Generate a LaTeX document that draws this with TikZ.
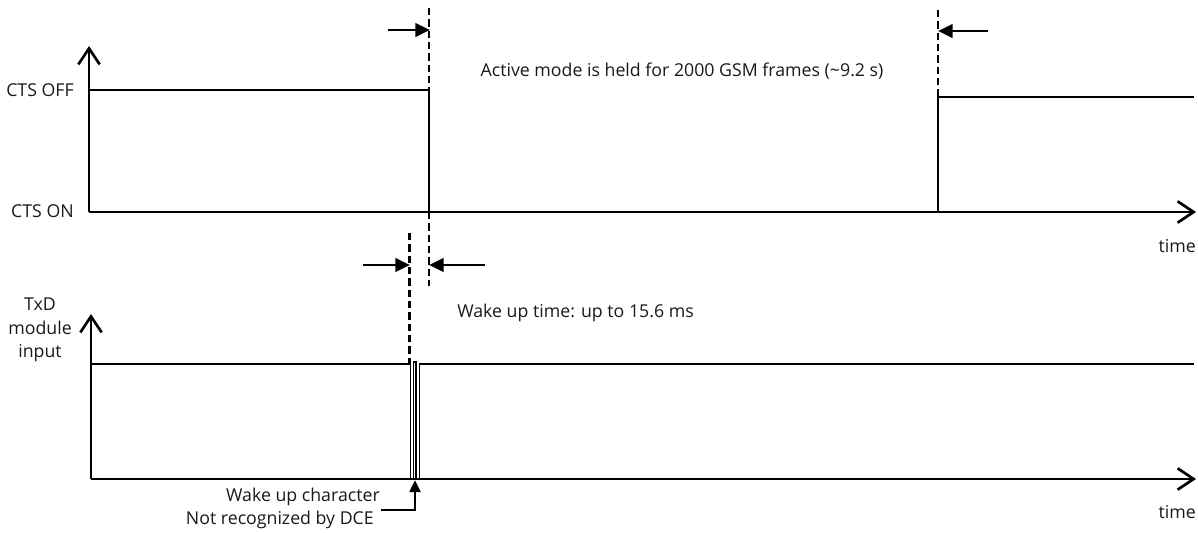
\documentclass[tikz,border=0pt]{standalone}
\usepackage{fontspec}
\setmainfont{Open Sans}
\usetikzlibrary{arrows.meta}
\begin{document}
\begin{tikzpicture}[x=0.75pt,y=-0.75pt,
  font=\fontsize{13.3pt}{17.5pt}\selectfont,
  axis/.style={line width=2pt,-{Straight Barb[length=12pt,width=16pt,line width=2pt]}},
  sig/.style={line width=1.4pt},
  pulse/.style={line width=0.75pt},
  guide/.style={line width=1.6pt,dash pattern=on 5.5pt off 3pt},
  dim/.style={line width=2.2pt,-{Triangle[length=11pt,width=10pt]}},
  lbl/.style={inner sep=0pt,text=black!90}]
\useasboundingbox (0,0) rectangle (1198,532);
% ---------- top panel ----------
\coordinate (o1) at (89,212);
\coordinate (y1) at (89,46);
\coordinate (t1) at (1196,212);
\coordinate (a1) at (89,90);
\coordinate (f1) at (429,90);
\coordinate (f1b) at (429,212);
\coordinate (r1b) at (938,212);
\coordinate (r1) at (938,97);
\coordinate (e1) at (1194,97);
\draw[guide] (429,8) coordinate (g1t) -- (429,286) coordinate (g1b);
\draw[guide] (938,10) coordinate (g2t) -- (r1);
\draw[sig] (a1) -- (f1) -- (f1b);
\draw[sig] (r1b) -- (r1) -- (e1);
\draw[axis] (o1) -- (y1);
\draw[axis] (o1) -- (t1);
\coordinate (d1s) at (388,30);
\coordinate (d1e) at (430,30);
\coordinate (d2s) at (988,31);
\coordinate (d2e) at (938,31);
\draw[dim] (d1s) -- (d1e);
\draw[dim] (d2s) -- (d2e);
\node[lbl,anchor=east] (ctsoff) at (74,90) {CTS OFF};
\node[lbl,anchor=east] (ctson) at (74,211) {CTS ON};
\node[lbl,anchor=east] (time1) at (1196,246) {time};
\node[lbl] (active) at (682,71) {Active mode is held for 2000 GSM frames (\textasciitilde 9.2 s)};
% ---------- bottom panel ----------
\coordinate (o2) at (91,479);
\coordinate (y2) at (91,314);
\coordinate (t2) at (1196,479);
\draw[guide] (409.5,233) coordinate (g3t) -- (409.5,364) coordinate (g3b);
\draw[sig] (91,364) -- (410,364);
\draw[pulse] (410,364) -- (410,479);
\draw[pulse,line width=1.1pt] (413.5,479) -- (413.5,362) -- (416,362) -- (416,479);
\draw[pulse] (419,479) -- (419,364);
\draw[sig] (419,364) -- (1194,364);
\draw[axis] (o2) -- (y2);
\draw[axis] (o2) -- (t2);
\coordinate (d3s) at (363,265);
\coordinate (d3e) at (410,265);
\coordinate (d4s) at (485,265);
\coordinate (d4e) at (429,265);
\draw[dim] (d3s) -- (d3e);
\draw[dim] (d4s) -- (d4e);
\node[lbl,align=center] (txd) at (40,330) {TxD\\module\\input};
\node[lbl,anchor=east] (time2) at (1196,512) {time};
\node[lbl,anchor=west] (wake) at (457,313) {Wake up time: up to 15.6 ms};
\node[lbl,anchor=east] (wc1) at (380,497) {Wake up character};
\node[lbl,anchor=east] (wc2) at (374,520) {Not recognized by DCE};
\coordinate (wcend) at (381,510);
\coordinate (wctip) at (415,480);
\draw[line width=2pt,-{Triangle[length=9pt,width=8pt]}] (wcend) -| (wctip);
\end{tikzpicture}
\end{document}
